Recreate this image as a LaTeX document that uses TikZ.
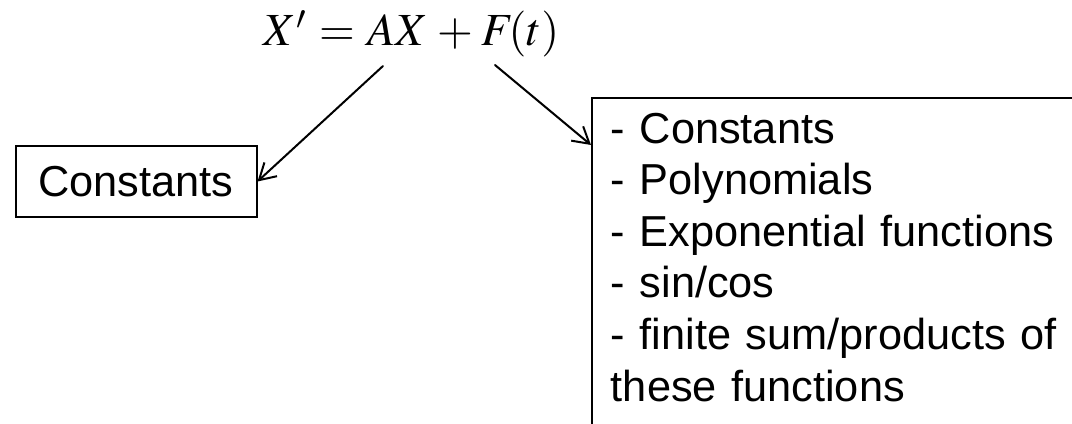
\documentclass[tikz,border=0pt]{standalone}
\usepackage{mathptmx}
\usepackage{fontspec}
\setmainfont{Liberation Sans}
\usetikzlibrary{arrows.meta}

\begin{document}
\begin{tikzpicture}[
  x={(0.75pt,0pt)},
  y={(0pt,-0.75pt)},
  line cap=round,
  arr/.style={-{Straight Barb[length=12pt, width=14pt]}, line width=1.5pt},
  box/.style={draw, line width=1.5pt, inner sep=0pt},
  txt/.style={font=\fontsize{32.5}{38.7}\selectfont},
]

% frame of the picture, the right box runs past it
\path[use as bounding box, clip] (0,0) rectangle (1072,424);

% equation on top
\node[anchor=base, inner sep=0pt, font=\fontsize{34.5}{40}\selectfont] (eq) at (411.5,46)
  {$X' \mskip1mu=\mskip1mu AX \mskip1mu+\mskip1mu F\!(t)$};

% left case
\node[box, txt, minimum width=180.75pt, minimum height=53.25pt] (const) at (136,181.5) {Constants};

% right case (cut off at the right and at the bottom)
\node[txt, anchor=north west, align=left, text width=13cm,
      inner xsep=14pt, inner ysep=11pt] (forms) at (592,98)
  {- Constants\\
   - Polynomials\\
   - Exponential functions\\
   - sin/cos\\
   - finite sum/products of\\
   these functions};
\draw[box] (forms.north west) rectangle +(600,420);

% arrow starts under the equation, end on the right box
\coordinate (eqL) at (383,66);
\coordinate (eqR) at (495,65);
\coordinate (formsin) at (591,145);

\draw[arr] (eqL) -- (const.east);
\draw[arr] (eqR) -- (formsin);

\end{tikzpicture}
\end{document}
